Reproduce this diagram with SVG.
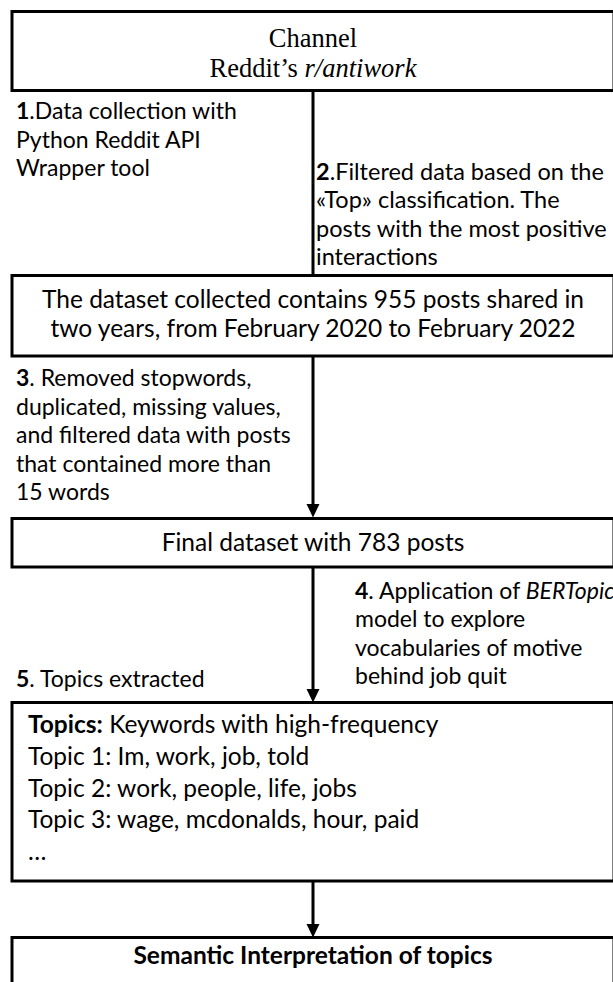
<svg xmlns="http://www.w3.org/2000/svg" width="613" height="982" viewBox="0 0 613 982">
<style>
.box{fill:#fff;stroke:#000;stroke-width:3}
.con{stroke:#000;stroke-width:3;fill:none}
.ser{font-family:"Liberation Serif",serif;font-size:26.5px;fill:#000}
.lab{font-family:Lato,"Open Sans",sans-serif;font-size:23px;fill:#000}
.bt{font-family:Lato,"Open Sans",sans-serif;font-size:24.5px;fill:#000}
.b{font-weight:bold}
.i{font-style:italic}
</style>
<rect width="613" height="982" fill="#fff"/>
<g id="connectors">
<line class="con" x1="313" y1="91" x2="313" y2="275"/>
<line class="con" x1="313" y1="357" x2="313" y2="505"/>
<path d="M306.5,504 L319.5,504 L313,517.5 Z"/>
<line class="con" x1="313" y1="568" x2="313" y2="690"/>
<path d="M306.5,689 L319.5,689 L313,702.5 Z"/>
<line class="con" x1="313" y1="882" x2="313" y2="925"/>
<path d="M306.5,924 L319.5,924 L313,937.5 Z"/>
</g>
<g id="channel">
<rect class="box" x="12" y="11.5" width="602" height="79"/>
<text class="ser" x="313" y="47" text-anchor="middle">Channel</text>
<text class="ser" x="313" y="77" text-anchor="middle">Reddit’s <tspan class="i">r/antiwork</tspan></text>
</g>
<g id="label1" class="lab">
<text x="16" y="119"><tspan class="b">1</tspan>.Data collection with</text>
<text x="16" y="147.5">Python Reddit API</text>
<text x="16" y="176">Wrapper tool</text>
</g>
<g id="label2" class="lab">
<text x="316" y="179.5" font-size="23.5"><tspan class="b">2</tspan>.Filtered data based on the</text>
<text x="316" y="208" font-size="23.5">«Top» classification. The</text>
<text x="316" y="236.5" font-size="23.5">posts with the most positive</text>
<text x="316" y="265" font-size="23.5">interactions</text>
</g>
<g id="dataset">
<rect class="box" x="12" y="275.5" width="602" height="80.5"/>
<text class="bt" x="313" y="308" text-anchor="middle">The dataset collected contains 955 posts shared in</text>
<text class="bt" x="313" y="337" text-anchor="middle">two years, from February 2020 to February 2022</text>
</g>
<g id="label3" class="lab">
<text x="16" y="386"><tspan class="b">3</tspan>. Removed stopwords,</text>
<text x="16" y="414.5">duplicated, missing values,</text>
<text x="16" y="443">and filtered data with posts</text>
<text x="16" y="471.5">that contained more than</text>
<text x="16" y="500">15 words</text>
</g>
<g id="final">
<rect class="box" x="12" y="518.5" width="602" height="48.5"/>
<text class="bt" x="313" y="551" text-anchor="middle">Final dataset with 783 posts</text>
</g>
<g id="label4" class="lab">
<text x="355" y="598.5"><tspan class="b">4</tspan>. Application of <tspan class="i">BERTopic</tspan></text>
<text x="355" y="627">model to explore</text>
<text x="355" y="655.5">vocabularies of motive</text>
<text x="355" y="684">behind job quit</text>
</g>
<g id="label5" class="lab">
<text x="16" y="687"><tspan class="b">5</tspan>. Topics extracted</text>
</g>
<g id="topics" class="bt">
<rect class="box" x="12" y="702.5" width="602" height="178.5"/>
<text x="28" y="733"><tspan class="b">Topics:</tspan> Keywords with high-frequency</text>
<text x="28" y="765">Topic 1: Im, work, job, told</text>
<text x="28" y="797">Topic 2: work, people, life, jobs</text>
<text x="28" y="828">Topic 3: wage, mcdonalds, hour, paid</text>
<text x="28" y="860">…</text>
</g>
<g id="semantic">
<rect class="box" x="12" y="937.5" width="602" height="60"/>
<text class="bt b" x="313" y="964" font-size="25" text-anchor="middle">Semantic Interpretation of topics</text>
</g>
</svg>
